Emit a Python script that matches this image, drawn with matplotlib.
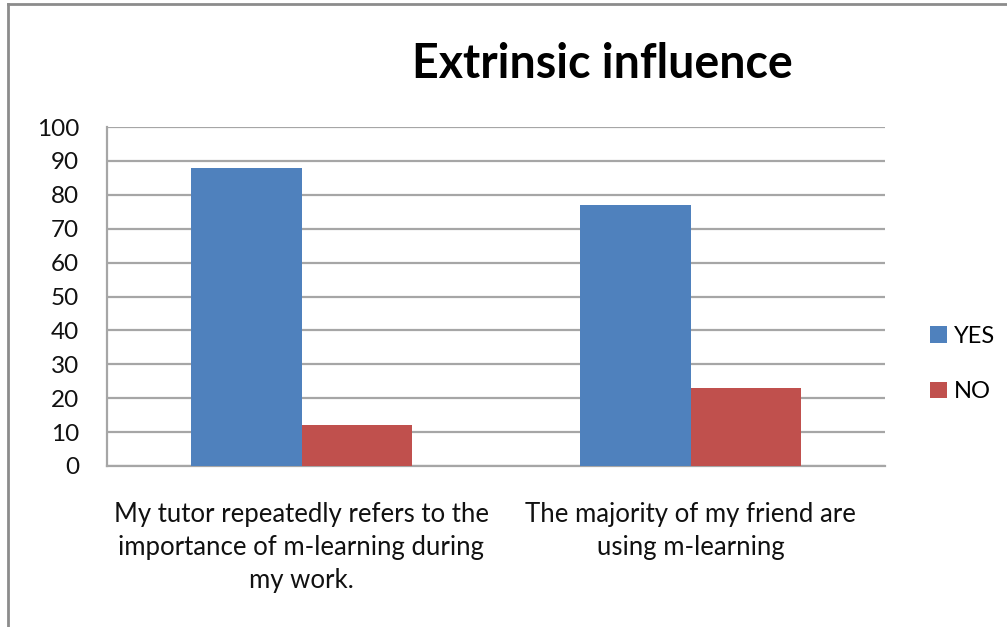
import matplotlib
matplotlib.use("Agg")
import matplotlib.pyplot as plt
from matplotlib.lines import Line2D
from matplotlib.patches import Patch
import numpy as np

categories = [
    "My tutor repeatedly refers to the\nimportance of m-learning during\nmy work.",
    "The majority of my friend are\nusing m-learning",
]
series_names = ["YES", "NO"]
yes_values = [88, 77]
no_values = [12, 23]
y_ticks = list(range(0, 101, 10))

BLUE = "#4F81BD"
RED = "#C0504D"
GRID = "#A6A6A6"
FONT = "Lato"

plt.rcParams["font.family"] = [FONT, "DejaVu Sans"]

fig = plt.figure(figsize=(10.07, 6.27), dpi=100)
ax = fig.add_axes([107 / 1007, 1 - 466 / 627, (885 - 107) / 1007, (466 - 127) / 627])

x = np.arange(len(categories))
w = 0.283
ax.bar(x - w / 2, yes_values, w, color=BLUE, label=series_names[0], zorder=3)
ax.bar(x + w / 2, no_values, w, color=RED, label=series_names[1], zorder=3)

ax.set_xlim(-0.5, len(categories) - 0.5)
ax.set_ylim(0, 100)
ax.set_yticks(y_ticks)
ax.yaxis.grid(True, color=GRID, linewidth=1.6, zorder=0)
ax.set_axisbelow(True)
for side in ("top", "right"):
    ax.spines[side].set_visible(False)
for side in ("left", "bottom"):
    ax.spines[side].set_color(GRID)
    ax.spines[side].set_linewidth(1.6)
ax.tick_params(axis="y", length=0, pad=20, labelsize=17.5, labelcolor="#111111")
ax.tick_params(axis="x", length=0, pad=26, labelsize=18.5, labelcolor="#111111")
ax.set_xticks(x)
ax.set_xticklabels(categories, linespacing=1.4)

fig.text(602 / 1007, 1 - 64 / 627, "Extrinsic influence", ha="center", va="center",
         fontsize=33.5, fontweight="bold", color="black")

handles = [Patch(facecolor=BLUE, edgecolor="none"), Patch(facecolor=RED, edgecolor="none")]
fig.legend(handles, series_names, loc="center left", bbox_to_anchor=(909 / 1007, 1 - 364 / 627),
           frameon=False, fontsize=17, handlelength=0.7, handleheight=0.7,
           handletextpad=0.3, labelspacing=1.45)

# outer frame of the chart area
fig.add_artist(Line2D([7.5 / 1007, 7.5 / 1007], [0, 1 - 3.5 / 627], transform=fig.transFigure,
                      color="#8C8C8C", linewidth=2))
fig.add_artist(Line2D([7.5 / 1007, 1], [1 - 3.5 / 627, 1 - 3.5 / 627], transform=fig.transFigure,
                      color="#8C8C8C", linewidth=2))

fig.savefig("out.png", dpi=100)
